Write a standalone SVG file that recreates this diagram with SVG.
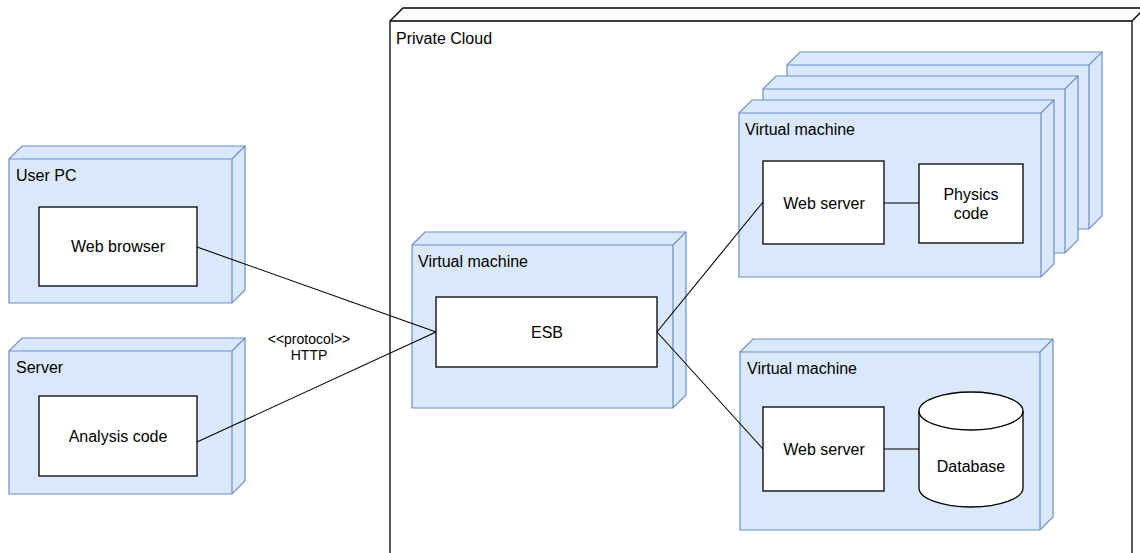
<svg xmlns="http://www.w3.org/2000/svg" width="1140" height="553" viewBox="0 0 1140 553">
<style>
.cube{fill:#dae8fc;stroke:#6c8ebf;stroke-width:1.2}
.cubeline{fill:none;stroke:#6c8ebf;stroke-width:1.2}
.cloud{fill:#ffffff;stroke:#000000;stroke-width:1.3}
.cloudline{fill:none;stroke:#000000;stroke-width:1.3}
.box{fill:#ffffff;stroke:#000000;stroke-width:1.3}
.conn{fill:none;stroke:#000000;stroke-width:1.1}
text{font-family:"Liberation Sans",Arial,sans-serif;font-size:16px;fill:#000000}
.c{text-anchor:middle}
.small{font-size:14px}
</style>
<rect width="1140" height="553" fill="#ffffff"/>

<g id="private-cloud">
<path class="cloud" d="M390,21 L403,8 L1145,8 L1145,607 L1132,620 L390,620 Z"/>
<path class="cloudline" d="M390,21 L1132,21 L1132,620 M1132,21 L1145,8"/>
<text x="396" y="44">Private Cloud</text>
</g>

<g id="user-pc">
<path class="cube" d="M9,159 L22,146 L245,146 L245,290 L232,303 L9,303 Z"/>
<path class="cubeline" d="M9,159 L232,159 L232,303 M232,159 L245,146"/>
<text x="16" y="181">User PC</text>
</g>
<g id="web-browser">
<rect class="box" x="39" y="207" width="158" height="79"/>
<text class="c" x="118" y="252">Web browser</text>
</g>

<g id="server">
<path class="cube" d="M9,351 L22,338 L245,338 L245,481 L232,494 L9,494 Z"/>
<path class="cubeline" d="M9,351 L232,351 L232,494 M232,351 L245,338"/>
<text x="16" y="373">Server</text>
</g>
<g id="analysis-code">
<rect class="box" x="39" y="396" width="158" height="80"/>
<text class="c" x="118" y="442">Analysis code</text>
</g>

<g id="vm-esb">
<path class="cube" d="M412,245 L425,232 L686,232 L686,395 L673,408 L412,408 Z"/>
<path class="cubeline" d="M412,245 L673,245 L673,408 M673,245 L686,232"/>
<text x="418" y="267">Virtual machine</text>
</g>
<g id="esb">
<rect class="box" x="436" y="297" width="221" height="70"/>
<text class="c" x="547" y="338">ESB</text>
</g>

<g id="vm-stack-3">
<path class="cube" d="M787,65 L800,52 L1102,52 L1102,216 L1089,229 L787,229 Z"/>
<path class="cubeline" d="M787,65 L1089,65 L1089,229 M1089,65 L1102,52"/>
</g>
<g id="vm-stack-2">
<path class="cube" d="M763,89 L776,76 L1078,76 L1078,240 L1065,253 L763,253 Z"/>
<path class="cubeline" d="M763,89 L1065,89 L1065,253 M1065,89 L1078,76"/>
</g>
<g id="vm-web">
<path class="cube" d="M739,113 L752,100 L1054,100 L1054,264 L1041,277 L739,277 Z"/>
<path class="cubeline" d="M739,113 L1041,113 L1041,277 M1041,113 L1054,100"/>
<text x="745" y="135">Virtual machine</text>
</g>
<g id="web-server-1">
<rect class="box" x="763" y="161" width="121" height="83"/>
<text class="c" x="824" y="209">Web server</text>
</g>
<g id="physics-code">
<rect class="box" x="919" y="164" width="104" height="79"/>
<text class="c" x="971" y="200">Physics</text>
<text class="c" x="971" y="219">code</text>
</g>

<g id="vm-db">
<path class="cube" d="M740,352 L753,339 L1053,339 L1053,517 L1040,530 L740,530 Z"/>
<path class="cubeline" d="M740,352 L1040,352 L1040,530 M1040,352 L1053,339"/>
<text x="747" y="374">Virtual machine</text>
</g>
<g id="web-server-2">
<rect class="box" x="763" y="407" width="121" height="84"/>
<text class="c" x="824" y="455">Web server</text>
</g>
<g id="database">
<path class="box" d="M919,411 A52,19 0 0 1 1023,411 L1023,488 A52,19 0 0 1 919,488 Z"/>
<path class="cloudline" d="M919,411 A52,19 0 0 0 1023,411"/>
<text class="c" x="971" y="472">Database</text>
</g>

<g id="connectors">
<path class="conn" d="M197,247 L436,332"/>
<path class="conn" d="M197,442 L436,332"/>
<path class="conn" d="M657,332 L763,202"/>
<path class="conn" d="M657,332 L763,449"/>
<path class="conn" d="M884,203 L919,203"/>
<path class="conn" d="M884,449 L919,449"/>
<text class="c small" x="309" y="344">&lt;&lt;protocol&gt;&gt;</text>
<text class="c small" x="309" y="360">HTTP</text>
</g>
</svg>
